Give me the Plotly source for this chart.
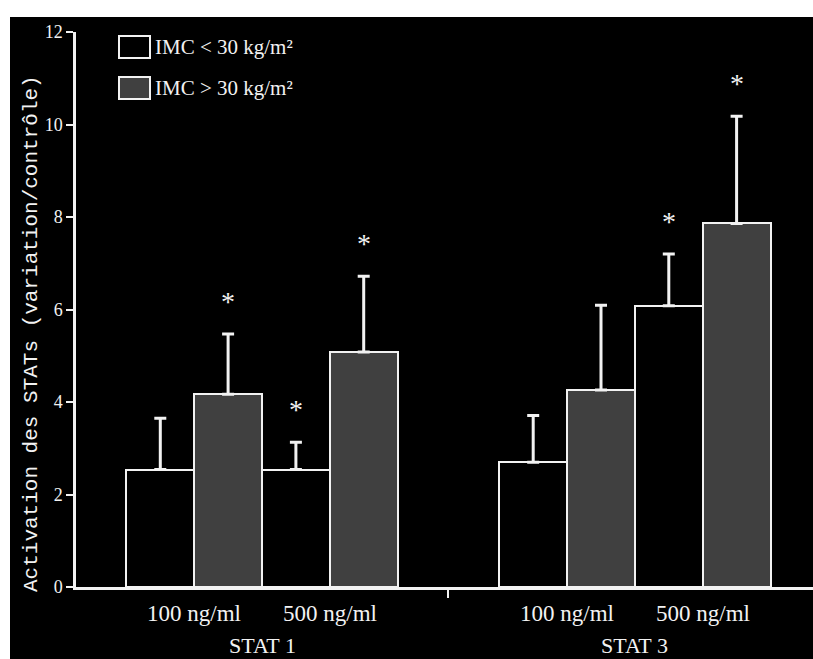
import plotly.graph_objects as go

# ---- data ----
groups = ["STAT 1", "STAT 3"]
doses = ["100 ng/ml", "500 ng/ml"]
series_names = ["IMC < 30 kg/m²", "IMC > 30 kg/m²"]

# means, ordered [STAT1-100, STAT1-500, STAT3-100, STAT3-500]
imc_low_mean = [2.54, 2.54, 2.70, 6.08]
imc_low_sd = [1.11, 0.59, 1.01, 1.12]
imc_low_sig = [False, True, False, True]

imc_high_mean = [4.17, 5.08, 4.26, 7.86]
imc_high_sd = [1.30, 1.64, 1.83, 2.32]
imc_high_sig = [True, True, False, True]

y_ticks = [0, 2, 4, 6, 8, 10, 12]

# ---- layout helpers ----
W, H = 813, 659
ML, MR, MT, MB = 76, 0, 32, 72
PW, PH = W - ML - MR, H - MT - MB
GROUP_STEP = 5.5
FONT = "Liberation Serif"
WHITE = "#f2f2f2"
GREY = "#404040"


def px_x(p):
    return (p - ML) / PW


def px_y(p):
    return (H - MB - p) / PH


positions = []
for g in range(len(groups)):
    for d in range(len(doses)):
        positions.append(g * GROUP_STEP + d * 2)
low_x = positions
high_x = [p + 1 for p in positions]

fig = go.Figure()

fig.add_trace(go.Bar(
    x=low_x, y=imc_low_mean, width=1, name=series_names[0],
    marker=dict(color="black", line=dict(color=WHITE, width=2)),
    error_y=dict(type="data", symmetric=False, array=imc_low_sd,
                 arrayminus=[0] * len(imc_low_sd), color=WHITE,
                 thickness=3, width=6),
    showlegend=False,
))
fig.add_trace(go.Bar(
    x=high_x, y=imc_high_mean, width=1, name=series_names[1],
    marker=dict(color=GREY, line=dict(color=WHITE, width=2)),
    error_y=dict(type="data", symmetric=False, array=imc_high_sd,
                 arrayminus=[0] * len(imc_high_sd), color=WHITE,
                 thickness=3, width=6),
    showlegend=False,
))

annotations = []
# significance stars
for xs, ms, sds, sigs in [(low_x, imc_low_mean, imc_low_sd, imc_low_sig),
                          (high_x, imc_high_mean, imc_high_sd, imc_high_sig)]:
    for x, m, s, sg in zip(xs, ms, sds, sigs):
        if sg:
            annotations.append(dict(
                x=x, y=m + s, xref="x", yref="y", text="*", showarrow=False,
                yanchor="middle", yshift=33,
                font=dict(family=FONT, size=28, color=WHITE)))

# dose labels and group labels
for g, gname in enumerate(groups):
    for d, dname in enumerate(doses):
        idx = g * len(doses) + d
        annotations.append(dict(
            x=positions[idx] + 0.5, y=px_y(613), xref="x", yref="paper",
            text=dname, showarrow=False, yanchor="middle",
            font=dict(family=FONT, size=23, color=WHITE)))
    annotations.append(dict(
        x=g * GROUP_STEP + 1.5, y=px_y(H), xref="x", yref="paper",
        text=gname, showarrow=False, yanchor="bottom", borderpad=0,
        font=dict(family=FONT, size=22, color=WHITE)))

# y-axis title
annotations.append(dict(
    x=px_x(31), y=px_y(334), xref="paper", yref="paper",
    text="Activation des STATs (variation/contrôle)", textangle=-90,
    showarrow=False, xanchor="center", yanchor="middle",
    font=dict(family="Liberation Mono", size=21, color=WHITE)))

# custom legend
shapes = [dict(type="rect", xref="paper", yref="paper", layer="below",
               x0=px_x(10), x1=1.0, y0=px_y(H), y1=px_y(17),
               fillcolor="black", line=dict(width=0))]
legend_rows = [(36, 58, "black"), (77, 99, GREY)]
for (top, bot, fill), nm in zip(legend_rows, series_names):
    shapes.append(dict(type="rect", xref="paper", yref="paper",
                       x0=px_x(119), x1=px_x(150), y0=px_y(bot), y1=px_y(top),
                       fillcolor=fill, line=dict(color=WHITE, width=2)))
    annotations.append(dict(
        x=px_x(153), y=px_y((top + bot) / 2), xref="paper", yref="paper",
        text=nm.replace("<", "&lt;").replace(">", "&gt;"), showarrow=False,
        xanchor="left", yanchor="middle",
        font=dict(family=FONT, size=21, color=WHITE)))

n_per_group = len(doses) * 2
fig.update_layout(
    width=W, height=H,
    margin=dict(l=ML, r=MR, t=MT, b=MB, pad=0),
    paper_bgcolor="white", plot_bgcolor="black",
    barmode="overlay", bargap=0,
    shapes=shapes, annotations=annotations,
    xaxis=dict(range=[(ML - 160.3) / 67.8, (W - 160.3) / 67.8],
               showgrid=False, zeroline=False, showline=True,
               linecolor=WHITE, linewidth=2.5,
               tickvals=[((n_per_group - 1) / 2 + GROUP_STEP + (n_per_group - 1) / 2) / 2],
               ticktext=[""], ticks="outside", ticklen=8, tickwidth=2,
               tickcolor=WHITE),
    yaxis=dict(range=[0, 12], showgrid=False, zeroline=False, showline=True,
               linecolor=WHITE, linewidth=2.5, tickvals=y_ticks,
               ticks="outside", ticklen=7, tickwidth=2, tickcolor=WHITE,
               tickfont=dict(family=FONT, size=18, color=WHITE)),
)

fig.write_html("out.html",
               config={"displayModeBar": False},
               post_script="document.body.style.margin='0';"
                           "document.body.style.padding='0';"
                           "document.body.style.overflow='hidden';"
                           "document.documentElement.style.overflow='hidden';")
